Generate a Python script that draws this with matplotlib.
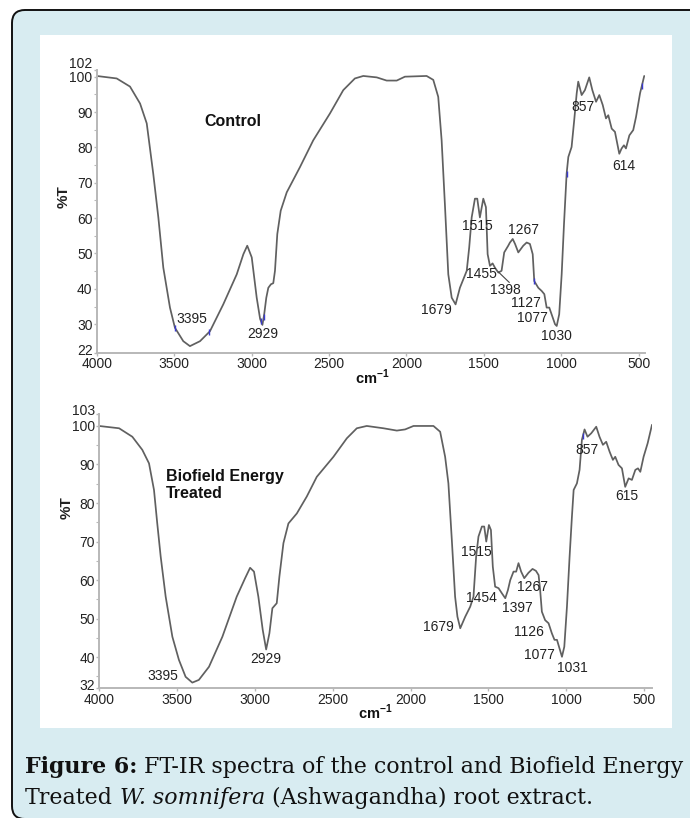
import matplotlib
matplotlib.use('Agg')
import matplotlib.pyplot as plt
from matplotlib.patches import FancyBboxPatch, Rectangle
from matplotlib.transforms import ScaledTranslation

plt.rcParams['font.family'] = ['Liberation Sans', 'DejaVu Sans']
plt.rcParams['mathtext.fontset'] = 'custom'
plt.rcParams['mathtext.rm'] = 'Liberation Sans'
plt.rcParams['mathtext.bf'] = 'Liberation Sans:bold'

# ---------------- data ----------------
ctrl_wn = [4000, 3871, 3785, 3720, 3677, 3635, 3602, 3570, 3527, 3495, 3441, 3398,
           3333, 3269, 3183, 3096, 3053, 3028, 2999, 2967, 2945, 2930, 2918, 2905,
           2892, 2875, 2860, 2849, 2834, 2812, 2773, 2688, 2602, 2494, 2408, 2333,
           2279, 2192, 2128, 2063, 2010, 1870, 1827, 1795, 1773, 1751, 1730, 1708,
           1683, 1655, 1611, 1595, 1579, 1558, 1543, 1526, 1504, 1487, 1476, 1461,
           1444, 1429, 1407, 1386, 1369, 1343, 1332, 1314, 1299, 1278, 1246, 1224,
           1203, 1185, 1175, 1149, 1127, 1110, 1095, 1078, 1063, 1041, 1030, 1014,
           998, 983, 966, 955, 934, 917, 901, 891, 869, 848, 820, 800, 776, 755,
           733, 712, 697, 675, 654, 626, 611, 596, 583, 561, 536, 518, 492, 465]
ctrl_T = [100.2, 99.5, 97.2, 92.4, 86.8, 72.6, 60.2, 46.0, 34.7, 29.0, 25.2, 23.8,
          25.2, 28.0, 35.6, 44.1, 49.8, 52.2, 48.9, 37.5, 31.5, 29.8, 33.0, 37.5,
          40.3, 41.3, 41.6, 45.1, 55.5, 62.1, 67.3, 74.4, 82.0, 89.6, 96.2, 99.5,
          100.2, 99.8, 98.9, 98.9, 100.0, 100.2, 99.1, 94.3, 82.0, 63.1, 44.1, 37.5,
          35.6, 40.3, 45.1, 51.7, 60.2, 65.5, 65.5, 60.2, 65.5, 63.1, 49.8, 46.5,
          47.2, 46.0, 44.6, 45.1, 50.3, 52.2, 53.1, 54.1, 52.7, 50.3, 52.2, 53.1,
          52.7, 49.8, 42.2, 40.3, 39.4, 38.5, 34.7, 34.7, 32.8, 30.0, 29.5, 32.8,
          44.1, 58.3, 72.6, 77.3, 80.1, 87.7, 95.3, 98.6, 94.8, 96.2, 99.8, 96.2, 92.9, 94.8,
          92.0, 88.2, 89.1, 85.3, 84.4, 78.2, 79.7, 80.6, 79.7, 83.4, 84.9, 88.6, 95.3, 100.2]

treat_wn = [4000, 3871, 3786, 3722, 3679, 3647, 3626, 3604, 3572, 3529, 3487, 3444,
            3401, 3359, 3294, 3208, 3116, 3062, 3030, 3005, 2977, 2949, 2927, 2906,
            2887, 2859, 2842, 2816, 2784, 2730, 2666, 2602, 2495, 2409, 2345, 2281,
            2174, 2088, 2035, 1981, 1853, 1810, 1778, 1757, 1735, 1714, 1699, 1681,
            1649, 1617, 1596, 1579, 1564, 1542, 1527, 1514, 1497, 1484, 1472, 1457,
            1435, 1414, 1392, 1375, 1360, 1339, 1322, 1307, 1290, 1270, 1243, 1217,
            1195, 1178, 1168, 1157, 1136, 1114, 1093, 1076, 1060, 1044, 1028, 1013,
            996, 979, 964, 953, 932, 915, 900, 883, 864, 840, 808, 787, 765, 744,
            722, 701, 686, 665, 643, 622, 600, 579, 557, 540, 525, 504, 478, 450]
treat_T = [100.0, 99.4, 97.2, 93.8, 90.3, 83.4, 74.7, 66.1, 55.7, 45.3, 39.3, 34.9,
           33.4, 34.1, 37.5, 45.3, 55.7, 60.5, 63.2, 62.2, 55.7, 47.1, 42.0, 46.2,
           52.7, 54.0, 60.9, 69.6, 74.7, 77.3, 81.7, 86.8, 92.0, 96.8, 99.4, 100.0,
           99.4, 98.8, 99.1, 100.0, 100.0, 98.5, 92.0, 85.1, 70.4, 55.7, 50.5, 47.5,
           50.5, 53.1, 55.7, 66.1, 71.3, 73.9, 73.9, 70.0, 74.3, 73.0, 63.5, 58.3,
           57.9, 56.6, 55.3, 57.4, 60.0, 62.2, 62.2, 64.4, 62.2, 60.5, 61.9, 62.9,
           62.4, 61.3, 57.4, 51.8, 49.6, 48.8, 46.2, 44.5, 44.5, 42.3, 40.1, 42.7,
           53.1, 66.1, 76.5, 83.4, 85.1, 88.6, 96.4, 99.1, 97.2, 98.1, 99.8, 97.2, 95.1, 95.9,
           93.3, 91.2, 92.0, 89.9, 89.0, 84.2, 86.4, 86.0, 88.6, 89.0, 88.1, 92.0, 95.5, 100.3]

# small blue peak-pick markers seen on the traces
ctrl_mark_wn = [3495, 3275, 2937, 2922, 1175, 966, 480]
ctrl_mark_T = [29.0, 27.8, 31.0, 32.0, 42.2, 72.6, 97.5]
treat_mark_wn = [890]
treat_mark_T = [97.5]

ctrl_peaks = ['3395', '2929', '1679', '1515', '1267', '1455', '1398', '1127', '1077', '1030', '857', '614']
treat_peaks = ['3395', '2929', '1679', '1515', '1454', '1397', '1267', '1126', '1077', '1031', '857', '615']

x_ticks = [4000, 3500, 3000, 2500, 2000, 1500, 1000, 500]
top_yticks = [22, 30, 40, 50, 60, 70, 80, 90, 100, 102]
bot_yticks = [32, 40, 50, 60, 70, 80, 90, 100, 103]

top_title = 'Control'
bot_title = 'Biofield Energy\nTreated'

# ---------------- layout ----------------
W, H = 690, 818
fig = plt.figure(figsize=(W / 100, H / 100), dpi=100)
fig.patch.set_facecolor('white')
inch = fig.dpi_scale_trans

frame = FancyBboxPatch((0.12, -0.01), 7.2, 8.09, boxstyle='round,pad=0,rounding_size=0.13',
                       transform=inch, facecolor='#d8ecf1', edgecolor='#111111', lw=1.4, zorder=-10)
fig.add_artist(frame)
panel = Rectangle((0.40, 0.90), 6.32, 6.93, transform=inch, facecolor='white', edgecolor='none', zorder=-9)
fig.add_artist(panel)


def px_axes(l, t, r, b):
    return fig.add_axes([l / W, 1 - b / H, (r - l) / W, (b - t) / H])


ax1 = px_axes(96.7, 69.6, 645, 352.5)
ax2 = px_axes(99, 414.4, 652, 688)

line_kw = dict(color='#606060', lw=1.25, solid_joinstyle='round', solid_capstyle='round')
ax1.plot(ctrl_wn, ctrl_T, **line_kw)
ax2.plot(treat_wn, treat_T, **line_kw)
mk_kw = dict(ls='none', marker='|', ms=4, mew=1.0, color='#3a3ad0', zorder=3)
ax1.plot(ctrl_mark_wn, ctrl_mark_T, **mk_kw)
ax2.plot(treat_mark_wn, treat_mark_T, **mk_kw)

spine_c = '#b8b8b8'
txt_c = '#222222'


def style(ax, xlim, ylim, yticks, top_shift_pt):
    ax.set_facecolor('none')
    for s in ['top', 'right']:
        ax.spines[s].set_visible(False)
    for s in ['left', 'bottom']:
        ax.spines[s].set_color(spine_c)
        ax.spines[s].set_linewidth(1.4)
    ax.set_xlim(*xlim)
    ax.set_ylim(*ylim)
    ax.set_xticks(x_ticks)
    ax.set_xticklabels([str(v) for v in x_ticks])
    ax.set_yticks(yticks)
    ax.set_yticklabels([str(v) for v in yticks])
    ax.set_yticks([v for v in range(35, 100, 10) if ylim[0] < v < ylim[1]], minor=True)
    ax.tick_params(axis='both', which='major', direction='out', length=2.5, width=1,
                   color=spine_c, labelsize=10, labelcolor=txt_c, pad=1)
    ax.tick_params(axis='y', which='minor', direction='out', length=2, width=0.8, color=spine_c)
    ax.tick_params(axis='y', pad=0.5)
    ticks = ax.yaxis.get_major_ticks()
    # the top-most tick label sits a little above its tick, the lowest one slightly too
    lab = ticks[-1].label1
    lab.set_transform(lab.get_transform() + ScaledTranslation(0, top_shift_pt / 72, inch))
    lab = ticks[0].label1
    lab.set_transform(lab.get_transform() + ScaledTranslation(0, 2.5 / 72, inch))


style(ax1, (4000, 460), (22, 102), top_yticks, 5.0)
style(ax2, (4000, 450), (32, 103), bot_yticks, 3.2)

# axis labels
fig.text(64 / W, 1 - 197 / H, '%T', rotation=90, ha='center', va='center',
         fontsize=11, fontweight='bold', color=txt_c)
fig.text(67 / W, 1 - 508 / H, '%T', rotation=90, ha='center', va='center',
         fontsize=11, fontweight='bold', color=txt_c)
fig.text(372 / W, 1 - 377 / H, r'cm$^{\mathbf{-1}}$', ha='center', va='center',
         fontsize=10.5, fontweight='bold', color='#111111')
fig.text(375 / W, 1 - 712 / H, r'cm$^{\mathbf{-1}}$', ha='center', va='center',
         fontsize=10.5, fontweight='bold', color='#111111')

# titles
ax1.text(3118, 87.4, top_title, ha='center', va='center', fontsize=11.5,
         fontweight='bold', color='#111111')
ax2.text(3570, 84.6, bot_title, ha='left', va='center', fontsize=11.5,
         fontweight='bold', color='#111111', linespacing=1.15)

# peak labels
ctrl_pos = [(3387, 31.5), (2928, 27.3), (1810, 33.9), (1543, 57.9), (1246, 56.7),
            (1515, 44.1), (1360, 39.7), (1230, 35.9), (1187, 31.8), (1030, 26.6),
            (863, 91.5), (594, 74.6)]
treat_pos = [(3587, 35.1), (2929, 39.4), (1820, 47.9), (1579, 67.2), (1542, 55.3),
             (1317, 52.7), (1217, 58.3), (1238, 46.6), (1174, 40.6), (958, 37.1),
             (868, 93.8), (610, 81.7)]
for lab, (x, y) in zip(ctrl_peaks, ctrl_pos):
    ax1.text(x, y, lab, ha='center', va='center', fontsize=10, color=txt_c)
for lab, (x, y) in zip(treat_peaks, treat_pos):
    ax2.text(x, y, lab, ha='center', va='center', fontsize=10, color=txt_c)
# leader line for 1398 in control
ax1.annotate('', xy=(1407, 44.8), xytext=(1336, 41.8),
             arrowprops=dict(arrowstyle='-', color='#444444', lw=0.8, shrinkA=0, shrinkB=0))

# ---------------- caption ----------------
renderer = fig.canvas.get_renderer()
cap_fam = ['DejaVu Serif']
line1 = [('Figure 6:', dict(fontweight='bold')),
         (' FT-IR spectra of the control and Biofield Energy', {})]
line2 = [('Treated', {}), (' W. somnifera', dict(style='italic')),
         (' (Ashwagandha) root extract.', {})]


def width_of(s, size, **kw):
    t = fig.text(0, 0, s, fontsize=size, family=cap_fam, **kw)
    w = t.get_window_extent(renderer).width
    t.remove()
    return w


def line_width(runs, size):
    sp = width_of('x x', size) - width_of('xx', size)
    tot = 0
    for s, kw in runs:
        if s.startswith(' '):
            tot += sp
            s = s[1:]
        tot += width_of(s, size, **kw)
    return tot


# fit the first caption line to the width it spans in the reference (x = 25 .. 685 px)
cap_size = 14 * 660 / line_width(line1, 14)
space_w = width_of('x x', cap_size) - width_of('xx', cap_size)


def rich_line(runs, x_px, base_py):
    x = x_px
    for s, kw in runs:
        if s.startswith(' '):
            x += space_w
            s = s[1:]
        t = fig.text(x / W, 1 - base_py / H, s, fontsize=cap_size, family=cap_fam,
                     ha='left', va='baseline', color='#111111', **kw)
        x += t.get_window_extent(renderer).width


rich_line(line1, 25, 773)
rich_line(line2, 25, 804)

fig.savefig('out.png', dpi=100)
